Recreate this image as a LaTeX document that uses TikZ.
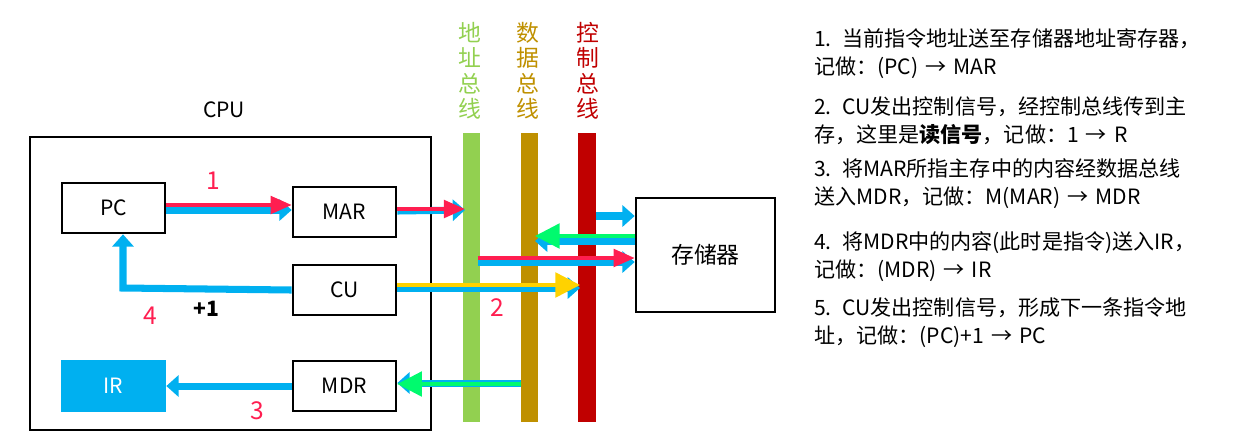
\documentclass[tikz,border=0pt]{standalone}
\usepackage{fontspec}
\setmainfont{Noto Sans CJK SC}
\usepackage{tikz}
\usetikzlibrary{arrows.meta,positioning}
\definecolor{cblue}{RGB}{0,176,240}
\definecolor{cred}{RGB}{255,30,80}
\definecolor{cgreen}{RGB}{0,250,110}
\definecolor{cyel}{RGB}{255,210,0}
\definecolor{abus}{RGB}{146,208,80}
\definecolor{dbus}{RGB}{191,144,0}
\definecolor{kbus}{RGB}{192,0,0}
\tikzset{
  unit/.style={draw=black, line width=1.5pt, minimum width=2.06cm, minimum height=1cm, font=\fontsize{12}{14}\selectfont},
  bluear/.style={cblue, line width=4pt, -{Triangle[length=7pt,width=12pt]}},
  redar/.style={cred, line width=2pt, -{Triangle[length=12pt,width=10pt]}},
  greenar/.style={cgreen, line width=2pt, -{Triangle[length=14pt,width=14pt]}},
  yelar/.style={cyel, line width=2pt, -{Triangle[length=14pt,width=14pt]}},
  buslbl/.style={font=\fontsize{13}{14.5}\selectfont, align=center, anchor=north},
  steplbl/.style={cred, font=\fontsize{14}{16}\selectfont},
  note/.style={anchor=north west, align=left, font=\fontsize{12}{16}\selectfont, text width=8.6cm}
}
\begin{document}
\begin{tikzpicture}[x=0.02cm, y=-0.02cm]
  \useasboundingbox (0,0) rectangle (1243,441);
  % processor box
  \draw[line width=1.5pt] (30,137) rectangle (431,430);
  \node (cpu) at (224,110) {\fontsize{12}{14}\selectfont CPU};
  % units
  \node[unit] (pc) at (113.5,208) {PC};
  \node[unit] (mar) at (344.5,212) {MAR};
  \node[unit] (cu) at (344.5,290) {CU};
  \node[unit] (mdr) at (344.5,386) {MDR};
  \node[unit, fill=cblue, draw=cblue, text=white] (ir) at (113.5,386) {IR};
  \node[draw=black, line width=1.5pt, minimum width=2.78cm, minimum height=2.28cm,
        font=\fontsize{13}{15}\selectfont] (mem) at (705.5,255) {存储器};
  % buses
  \fill[abus] (463,133) rectangle (480,422);
  \fill[dbus] (521,133) rectangle (538,422);
  \fill[kbus] (578,133) rectangle (596,422);
  \node[buslbl, text=abus] (abl) at (470,16) {地\\址\\总\\线};
  \node[buslbl, text=dbus] (dbl) at (528,16) {数\\据\\总\\线};
  \node[buslbl, text=kbus] (kbl) at (588,16) {控\\制\\总\\线};
  \coordinate (ab1) at (465,210);
  \coordinate (ab2) at (478,262);
  \coordinate (db1) at (535,239);
  \coordinate (db2) at (521,383);
  \coordinate (kb1) at (596,216);
  \coordinate (kb2) at (580,288);
  % transfers
  \draw[bluear] (pc.east |- 0,210) -- (mar.west |- 0,210);
  \draw[redar] (pc.east |- 0,205) -- (mar.west |- 0,205);
  \draw[bluear] (mar.east |- 0,211) -- (ab1);
  \draw[redar] (mar.east |- 0,209) -- (ab1 |- 0,209);
  \draw[bluear] (kb1) -- (mem.west |- kb1);
  \draw[bluear] (mem.west |- 0,241) -- (db1 |- 0,241);
  \draw[greenar] (mem.west |- 0,236) -- (db1 |- 0,236);
  \draw[bluear] (ab2) -- (mem.west |- ab2);
  \draw[redar] (ab2 |- 0,258) -- (mem.west |- 0,258);
  \draw[bluear] (cu.east |- 0,288) -- (kb2);
  \draw[yelar] (cu.east |- 0,285) -- (kb2 |- 0,285);
  \draw[bluear] (db2) -- (mdr.east |- db2);
  \draw[greenar] (db2 |- 0,384) -- (mdr.east |- 0,384);
  \draw[bluear] (mdr.west) -- (ir.east);
  \draw[bluear] (cu.west) -- (123,288) -- (pc.south -| 123,0);
  % labels
  \node[steplbl] (s1) at (213,181) {1};
  \node[steplbl] (s2) at (497,308) {2};
  \node[steplbl] (s3) at (257,411) {3};
  \node[steplbl] (s4) at (150,316) {4};
  \node (plus) at (206,309) {\fontsize{12}{14}\selectfont\bfseries +1};
  % steps text
  \node[note] (n1) at (808,22) {1. 当前指令地址送至存储器地址寄存器，\\记做：(PC) → MAR};
  \node[note] (n2) at (808,90) {2. CU发出控制信号，经控制总线传到主\\存，这里是\textbf{读信号}，记做：1 → R};
  \node[note] (n3) at (808,152) {3. 将MAR所指主存中的内容经数据总线\\送入MDR，记做：M(MAR) → MDR};
  \node[note] (n4) at (808,225) {4. 将MDR中的内容(此时是指令)送入IR，\\记做：(MDR) → IR};
  \node[note] (n5) at (808,291) {5. CU发出控制信号，形成下一条指令地\\址，记做：(PC)+1 → PC};
\end{tikzpicture}
\end{document}
